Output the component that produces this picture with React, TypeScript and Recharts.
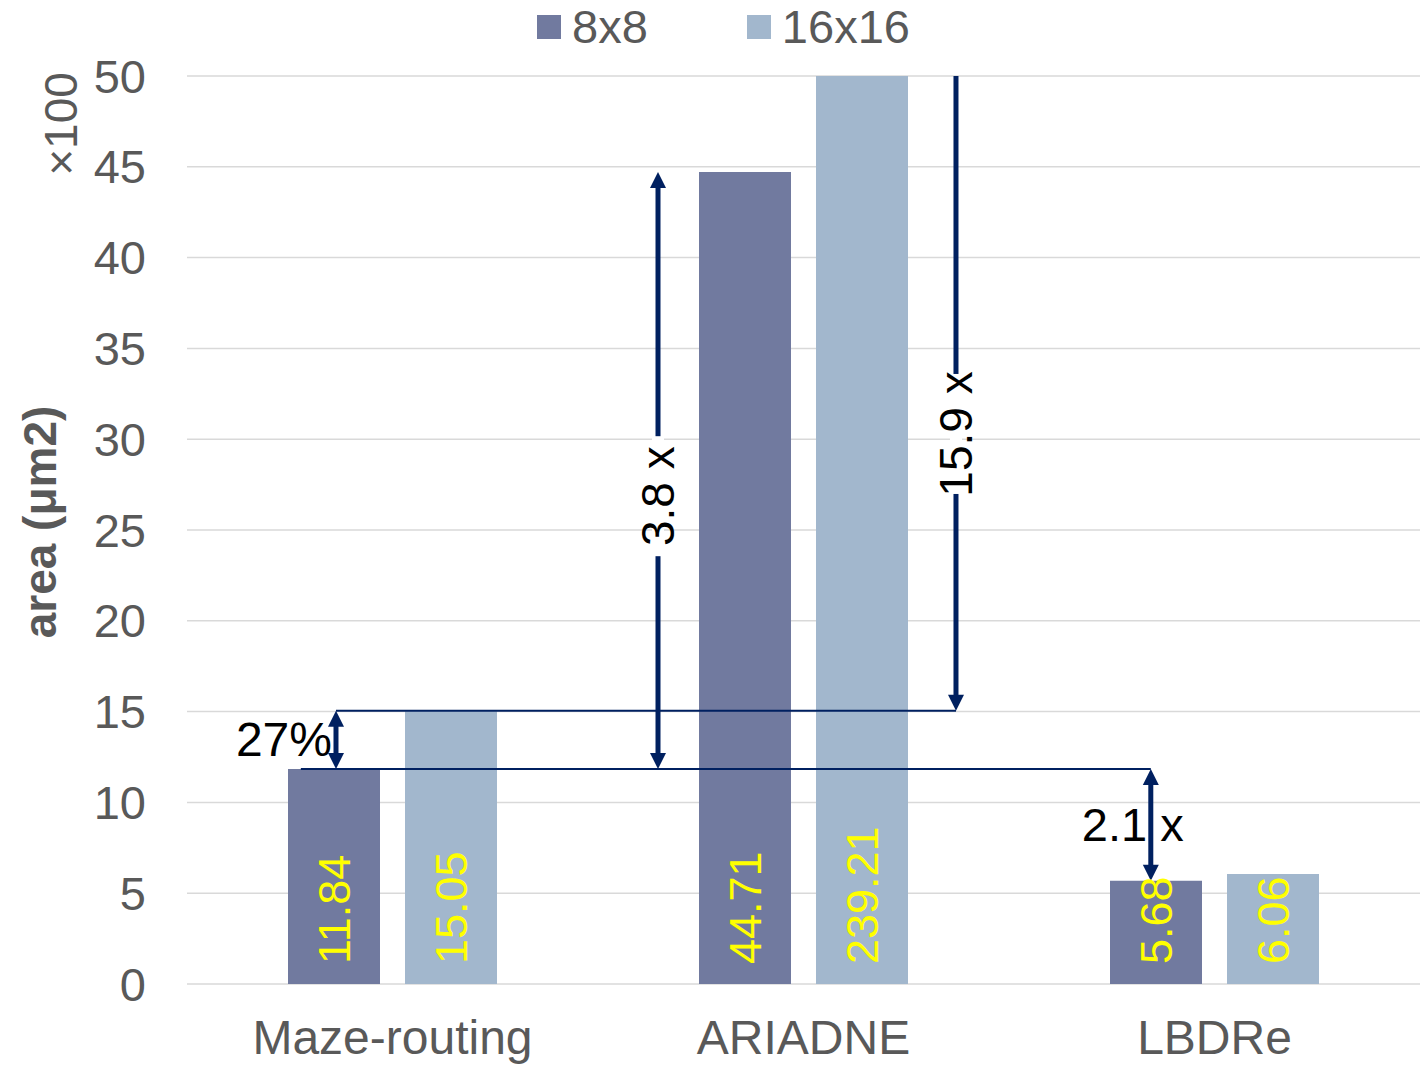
import { BarChart, Bar, XAxis, YAxis, CartesianGrid, Legend, LabelList, ReferenceLine, Label } from "recharts";

const categories = ["Maze-routing", "ARIADNE", "LBDRe"];
const seriesNames = ["8x8", "16x16"];
const area8x8 = [11.84, 44.71, 5.68];
const area16x16 = [15.05, 239.21, 6.06];
const yTicks = [0, 5, 10, 15, 20, 25, 30, 35, 40, 45, 50];

// horizontal guides, x given on a 0..3 scale across the three categories
const guides = [
  { y: 15.05, from: 0.3625, to: 1.871 },
  { y: 11.84, from: 0.277, to: 2.345 },
];

// ratio arrows: from/to are area values, "at" is where a rotated label sits along the shaft
const arrows = [
  { x: 0.3625, from: 11.84, to: 15.05, text: "27%", both: true, kind: "left", at: 0.5 },
  { x: 1.146, from: 11.84, to: 44.71, text: "3.8 x", both: true, kind: "rotated", at: 0.457 },
  { x: 1.871, from: 50, to: 15.05, text: "15.9 x", both: false, kind: "rotated", at: 0.564 },
  { x: 2.345, from: 11.84, to: 5.68, text: "2.1 x", both: true, kind: "across", at: 0.5 },
];

// slot = centre of each category on the 0..3 annotation scale
const data = categories.map((name, i) => ({ name, slot: i + 0.5, s8: area8x8[i], s16: area16x16[i] }));

const C8 = "#717A9F";
const C16 = "#A2B7CD";
const NAVY = "#002060";
const GREY = "#595959";
const FONT = "'Liberation Sans', Arial, sans-serif";
const HEAD = 16;

function arrowShape(a: (typeof arrows)[number]) {
  return (p: any) => {
    const x = p.x1;
    const ya = p.y1;
    const yb = p.y2;
    const dir = Math.sign(yb - ya);
    const head = (tip: number, d: number) =>
      `${x},${tip} ${x - 8},${tip - d * HEAD} ${x + 8},${tip - d * HEAD}`;
    const s1 = a.both ? ya + dir * (HEAD - 2) : ya;
    const s2 = yb - dir * (HEAD - 2);
    const ly = ya + (yb - ya) * a.at;
    let label = null;
    if (a.kind === "left") {
      label = (
        <text x={x - 4} y={ly} textAnchor="end" dominantBaseline="central" fontSize={48} fill="#000">
          {a.text}
        </text>
      );
    } else if (a.kind === "across") {
      label = (
        <text x={x - 69} y={ly} textAnchor="start" dominantBaseline="central" fontSize={47} fill="#000">
          {a.text}
        </text>
      );
    }
    return (
      <g>
        <line x1={x} y1={s1} x2={x} y2={s2} stroke={NAVY} strokeWidth={5} />
        <polygon points={head(yb, dir)} fill={NAVY} />
        {a.both && <polygon points={head(ya, -dir)} fill={NAVY} />}
        {a.kind === "rotated" && (
          <g>
            <rect x={x - 6} y={ly - 60} width={12} height={120} fill="#fff" />
            <text
              x={x}
              y={ly}
              transform={`rotate(-90 ${x} ${ly})`}
              textAnchor="middle"
              dominantBaseline="central"
              fontSize={46}
              fill="#000"
            >
              {a.text}
            </text>
          </g>
        )}
        {label}
      </g>
    );
  };
}

function ValueLabel(p: any) {
  const cx = p.x + p.width / 2;
  const by = p.y + p.height - 20;
  return (
    <text
      x={cx}
      y={by}
      transform={`rotate(-90 ${cx} ${by})`}
      textAnchor="start"
      dominantBaseline="central"
      fontSize={45}
      fill="#FFFF00"
    >
      {Number(p.value).toFixed(2)}
    </text>
  );
}

function AxisTitle(p: any) {
  const { y, height } = p.viewBox;
  const cy = y + height / 2 - 8;
  const uy = y + 48;
  return (
    <g>
      <text
        x={40}
        y={cy}
        transform={`rotate(-90 40 ${cy})`}
        textAnchor="middle"
        dominantBaseline="central"
        fontSize={46}
        fontWeight="bold"
        fill={GREY}
      >
        area (μm2)
      </text>
      <text
        x={61}
        y={uy}
        transform={`rotate(-90 61 ${uy})`}
        textAnchor="middle"
        dominantBaseline="central"
        fontSize={46}
        fill={GREY}
      >
        ×100
      </text>
    </g>
  );
}

function LegendRow(props: any) {
  const items = [...(props.payload ?? [])].sort(
    (a: any, b: any) => seriesNames.indexOf(a.value) - seriesNames.indexOf(b.value)
  );
  return (
    <div
      style={{
        display: "flex",
        justifyContent: "center",
        alignItems: "center",
        height: 54,
        paddingLeft: 22,
        gap: 99,
      }}
    >
      {items.map((it: any) => (
        <div key={it.value} style={{ display: "flex", alignItems: "center" }}>
          <span style={{ width: 24, height: 24, background: it.color, marginRight: 11 }} />
          <span style={{ fontSize: 47, color: GREY, lineHeight: "54px" }}>{it.value}</span>
        </div>
      ))}
    </div>
  );
}

export default function App() {
  return (
    <div style={{ position: "absolute", left: 0, top: 0, fontFamily: FONT, background: "#fff" }}>
      <BarChart
        width={1425}
        height={1065}
        data={data}
        barGap={25}
        margin={{ top: 76, right: 5, bottom: 0, left: 0 }}
      >
        <CartesianGrid vertical={false} stroke="#D9D9D9" strokeWidth={1.5} />
        <XAxis
          dataKey="name"
          height={81}
          axisLine={false}
          tickLine={false}
          tickSize={0}
          tickMargin={36}
          tick={{ fontSize: 48, fill: GREY }}
          interval={0}
        />
        <XAxis
          xAxisId="pos"
          dataKey="slot"
          type="number"
          scale="linear"
          domain={[0, 3]}
          allowDataOverflow
          hide
        />
        <YAxis
          width={187}
          domain={[0, 50]}
          ticks={yTicks}
          allowDataOverflow
          axisLine={false}
          tickLine={false}
          tickSize={0}
          tickMargin={41}
          tick={{ fontSize: 47, fill: GREY }}
        >
          <Label content={AxisTitle} />
        </YAxis>
        <Legend
          layout="horizontal"
          verticalAlign="middle"
          align="center"
          wrapperStyle={{ top: 0, left: 0, width: 1425 }}
          content={LegendRow}
        />
        <Bar dataKey="s8" name={seriesNames[0]} fill={C8} barSize={92} isAnimationActive={false}>
          <LabelList dataKey="s8" content={ValueLabel} />
        </Bar>
        <Bar dataKey="s16" name={seriesNames[1]} fill={C16} barSize={92} isAnimationActive={false}>
          <LabelList dataKey="s16" content={ValueLabel} />
        </Bar>
        {guides.map((g, i) => (
          <ReferenceLine
            key={`g${i}`}
            xAxisId="pos"
            segment={[
              { x: g.from, y: g.y },
              { x: g.to, y: g.y },
            ]}
            stroke={NAVY}
            strokeWidth={2}
          />
        ))}
        {arrows.map((a, i) => (
          <ReferenceLine
            key={`a${i}`}
            xAxisId="pos"
            segment={[
              { x: a.x, y: a.from },
              { x: a.x, y: a.to },
            ]}
            shape={arrowShape(a)}
          />
        ))}
      </BarChart>
    </div>
  );
}
